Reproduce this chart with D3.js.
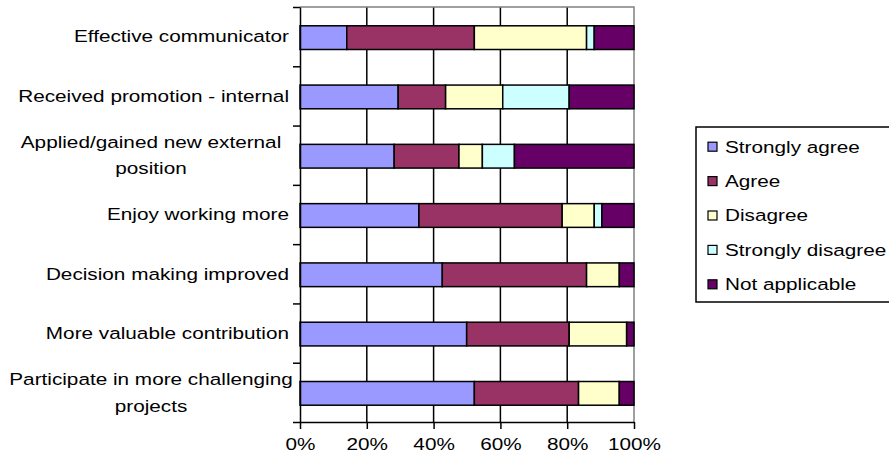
<!DOCTYPE html>
<html>
<head>
<meta charset="utf-8">
<script src="https://cdn.jsdelivr.net/npm/d3@7"></script>
<style>
  body { margin: 0; background: #fff; }
  svg { display: block; }
  text { font-family: "Liberation Sans", Arial, sans-serif; fill: #000; }
</style>
</head>
<body>
<svg id="chart" width="889" height="464"></svg>
<script>
// Survey categories (top to bottom) and their wrapped label lines
const categories = [
  "Effective communicator",
  "Received promotion - internal",
  "Applied/gained new external position",
  "Enjoy working more",
  "Decision making improved",
  "More valuable contribution",
  "Participate in more challenging projects"
];
const categoryLines = [
  ["Effective communicator"],
  ["Received promotion - internal"],
  ["Applied/gained new external", "position"],
  ["Enjoy working more"],
  ["Decision making improved"],
  ["More valuable contribution"],
  ["Participate in more challenging", "projects"]
];

// Response shares (%) per category
const stronglyAgree    = [14.0, 29.4, 28.2, 35.6, 42.6, 49.9, 52.2];
const agree            = [38.2, 14.2, 19.4, 42.9, 43.2, 30.7, 31.2];
const disagree         = [33.6, 17.1,  7.0,  9.6,  9.8, 17.2, 12.2];
const stronglyDisagree = [ 2.3, 19.9,  9.6,  2.3,  0.0,  0.0,  0.0];
const notApplicable    = [11.9, 19.4, 35.8,  9.6,  4.4,  2.2,  4.4];

const seriesNames  = ["Strongly agree", "Agree", "Disagree", "Strongly disagree", "Not applicable"];
const seriesValues = [stronglyAgree, agree, disagree, stronglyDisagree, notApplicable];
const seriesColors = ["#9999FF", "#993366", "#FFFFCC", "#CCFFFF", "#660066"];

const xTickValues = [0, 0.2, 0.4, 0.6, 0.8, 1];

// Text is drawn slightly widened, as in the original export
const SX = 1.22;
const FONT = 17;

const svg = d3.select("#chart");

const plot = { left: 300, right: 634, top: 7, bottom: 422 };

const rows = categories.map((c, i) => {
  const r = { category: c };
  seriesNames.forEach((s, j) => r[s] = seriesValues[j][i]);
  return r;
});

const stacked = d3.stack()
  .keys(seriesNames)
  .offset(d3.stackOffsetExpand)(rows);

const x = d3.scaleLinear().domain([0, 1]).range([plot.left, plot.right]);
const y = d3.scaleBand().domain(categories).range([plot.top, plot.bottom])
  .paddingInner(0.6).paddingOuter(0.3);
const color = d3.scaleOrdinal().domain(seriesNames).range(seriesColors);

// Vertical gridlines
svg.append("g")
  .selectAll("line")
  .data(xTickValues.filter(v => v > 0 && v < 1))
  .join("line")
  .attr("x1", d => x(d)).attr("x2", d => x(d))
  .attr("y1", plot.top).attr("y2", plot.bottom)
  .attr("stroke", "#000").attr("stroke-width", 1.5);

// Plot frame (top and right edges)
svg.append("path")
  .attr("d", `M${plot.left},${plot.top}H${plot.right}V${plot.bottom}`)
  .attr("fill", "none").attr("stroke", "#808080").attr("stroke-width", 1.5);

// Stacked bars
svg.append("g")
  .selectAll("g")
  .data(stacked)
  .join("g")
  .attr("fill", d => color(d.key))
  .selectAll("rect")
  .data(d => d.filter(p => p[1] - p[0] > 0))
  .join("rect")
  .attr("x", d => x(d[0]))
  .attr("y", d => y(d.data.category) + 1)
  .attr("width", d => x(d[1]) - x(d[0]))
  .attr("height", y.bandwidth())
  .attr("stroke", "#000")
  .attr("stroke-width", 1.5);

// Bottom axis
const xAxis = svg.append("g")
  .attr("transform", `translate(0,${plot.bottom})`)
  .call(d3.axisBottom(x).tickValues(xTickValues).tickFormat(d3.format(".0%")).tickSize(7).tickSizeOuter(0));
xAxis.select(".domain").attr("stroke", "#000").attr("stroke-width", 1.5);
xAxis.selectAll(".tick line").attr("stroke", "#000").attr("stroke-width", 1.5);
xAxis.selectAll(".tick text")
  .attr("y", 0)
  .attr("dy", null)
  .attr("font-size", FONT)
  .attr("font-family", null)
  .attr("dominant-baseline", "central")
  .attr("transform", `translate(0,22) scale(${SX},1)`);

// Left axis with ticks at category boundaries
const yBounds = d3.scaleLinear().domain([0, categories.length]).range([plot.top, plot.bottom]);
const yAxis = svg.append("g")
  .attr("transform", `translate(${plot.left},0)`)
  .call(d3.axisLeft(yBounds).ticks(categories.length).tickFormat("").tickSize(7).tickSizeOuter(0));
yAxis.select(".domain").attr("stroke", "#000").attr("stroke-width", 1.5);
yAxis.selectAll(".tick line").attr("stroke", "#000").attr("stroke-width", 1.5);

// Category labels
const lineGap = 26.7;
const labels = svg.append("g").attr("font-size", FONT);
categories.forEach((c, i) => {
  const lines = categoryLines[i];
  const cy = y(c) + y.bandwidth() / 2;
  if (lines.length === 1) {
    labels.append("text")
      .attr("text-anchor", "end")
      .attr("dominant-baseline", "central")
      .attr("transform", `translate(289,${cy}) scale(${SX},1)`)
      .text(lines[0]);
  } else {
    lines.forEach((ln, k) => {
      const ly = cy + (k - (lines.length - 1) / 2) * lineGap;
      labels.append("text")
        .attr("text-anchor", "middle")
        .attr("dominant-baseline", "central")
        .attr("transform", `translate(151,${ly}) scale(${SX},1)`)
        .text(ln);
    });
  }
});

// Legend
const legend = svg.append("g").attr("transform", "translate(696,127)");
legend.append("rect")
  .attr("x", 0).attr("y", 0).attr("width", 210).attr("height", 175)
  .attr("fill", "#fff").attr("stroke", "#000").attr("stroke-width", 1.5);
const item = legend.selectAll("g.item")
  .data(seriesNames)
  .join("g")
  .attr("class", "item")
  .attr("transform", (d, i) => `translate(0,${19.7 + i * 34.4})`);
item.append("rect")
  .attr("x", 12).attr("y", -4.5).attr("width", 9).attr("height", 9)
  .attr("fill", d => color(d)).attr("stroke", "#000").attr("stroke-width", 1.2);
item.append("text")
  .attr("font-size", FONT)
  .attr("dominant-baseline", "central")
  .attr("transform", `translate(29,0) scale(${SX},1)`)
  .text(d => d);
</script>
</body>
</html>
